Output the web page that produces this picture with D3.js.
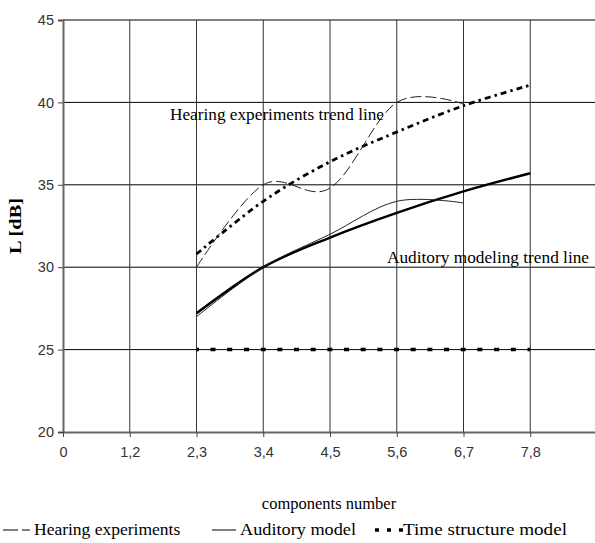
<!DOCTYPE html>
<html>
<head>
<meta charset="utf-8">
<script src="https://cdn.jsdelivr.net/npm/d3@7"></script>
<style>
  body { margin: 0; background: #fff; }
  svg { display: block; }
</style>
</head>
<body>
<div id="vis-container"></div>
<script>
// categories on the x axis (Excel-style category axis)
const categories = ["0", "1,2", "2,3", "3,4", "4,5", "5,6", "6,7", "7,8"];
const yTicks = [20, 25, 30, 35, 40, 45];

// series, indexed by category position
const hearingIdx = [2, 3, 4, 5, 6];
const hearing = [30.0, 35.0, 34.8, 40.0, 39.9];
const auditory = [27.0, 30.0, 32.0, 34.0, 33.9];

const trendIdx = [2, 3, 4, 5, 6, 7];
const hearingTrend = [30.8, 34.0, 36.4, 38.2, 39.8, 41.05];
const auditoryTrend = [27.2, 30.0, 31.8, 33.3, 34.6, 35.7];
const timeStructure = [25, 25, 25, 25, 25, 25];

const width = 595;
const height = 543;
const margin = { top: 20, right: -2, bottom: 111, left: 63 };

const svg = d3.select("#vis-container")
  .append("svg")
  .attr("width", width)
  .attr("height", height);

// x: category position, 8 slots
const x = d3.scaleLinear()
  .domain([0, 8])
  .range([margin.left, width - margin.right]);

const y = d3.scaleLinear()
  .domain([20, 45])
  .range([height - margin.bottom, margin.top]);

// horizontal grid
svg.append("g")
  .selectAll("line")
  .data(yTicks.slice(1))
  .join("line")
  .attr("x1", margin.left)
  .attr("x2", width)
  .attr("y1", d => y(d))
  .attr("y2", d => y(d))
  .attr("stroke", "#000")
  .attr("stroke-width", 1);

// vertical grid
svg.append("g")
  .selectAll("line")
  .data(d3.range(1, categories.length))
  .join("line")
  .attr("x1", d => x(d))
  .attr("x2", d => x(d))
  .attr("y1", y(45))
  .attr("y2", y(20))
  .attr("stroke", "#333")
  .attr("stroke-width", 1);

const sans = "'Liberation Sans', Arial, sans-serif";
const serif = "'Liberation Serif', 'Times New Roman', serif";

// y axis
const yAxis = svg.append("g")
  .attr("transform", `translate(${margin.left},0)`)
  .call(d3.axisLeft(y).tickValues(yTicks).tickSize(5).tickPadding(4));
yAxis.select(".domain").attr("stroke", "#666").attr("stroke-width", 2);
yAxis.selectAll(".tick line").attr("stroke", "#444");
yAxis.selectAll("text")
  .attr("font-family", sans)
  .attr("font-size", "14.5px")
  .attr("fill", "#333");

// x axis
const xAxis = svg.append("g")
  .attr("transform", `translate(0,${y(20)})`)
  .call(d3.axisBottom(x)
    .tickValues(d3.range(categories.length))
    .tickFormat(i => categories[i])
    .tickSize(5)
    .tickPadding(10)
    .tickSizeOuter(0));
xAxis.select(".domain").attr("stroke", "#666").attr("stroke-width", 2);
xAxis.selectAll(".tick line").attr("stroke", "#444");
xAxis.selectAll("text")
  .attr("font-family", sans)
  .attr("font-size", "14.5px")
  .attr("fill", "#333");

// lines
const smooth = d3.line()
  .x(d => x(d[0]))
  .y(d => y(d[1]))
  .curve(d3.curveCatmullRom.alpha(0));

const pairs = (idx, vals) => idx.map((d, i) => [d, vals[i]]);

// time structure model (square dots)
svg.append("path")
  .datum(pairs(trendIdx, timeStructure))
  .attr("d", smooth)
  .attr("fill", "none")
  .attr("stroke", "#000")
  .attr("stroke-width", 3.5)
  .attr("stroke-dasharray", "5,11.67")
  .attr("stroke-dashoffset", 2.5);

// auditory model trend (thick)
svg.append("path")
  .datum(pairs(trendIdx, auditoryTrend))
  .attr("d", smooth)
  .attr("fill", "none")
  .attr("stroke", "#000")
  .attr("stroke-width", 2.5);

// auditory model (thin)
svg.append("path")
  .datum(pairs(hearingIdx, auditory))
  .attr("d", smooth)
  .attr("fill", "none")
  .attr("stroke", "#222")
  .attr("stroke-width", 1);

// hearing experiments trend (dash-dot)
svg.append("path")
  .datum(pairs(trendIdx, hearingTrend))
  .attr("d", smooth)
  .attr("fill", "none")
  .attr("stroke", "#000")
  .attr("stroke-width", 2.8)
  .attr("stroke-dasharray", "6,4,2.5,4");

// hearing experiments (thin dashed)
svg.append("path")
  .datum(pairs(hearingIdx, hearing))
  .attr("d", smooth)
  .attr("fill", "none")
  .attr("stroke", "#222")
  .attr("stroke-width", 1)
  .attr("stroke-dasharray", "11,4");

// annotations
svg.append("text")
  .attr("x", 170).attr("y", 120)
  .attr("font-family", serif).attr("font-size", "17px")
  .attr("textLength", 214).attr("lengthAdjust", "spacingAndGlyphs")
  .text("Hearing experiments trend line");
svg.append("text")
  .attr("x", 387).attr("y", 263)
  .attr("font-family", serif).attr("font-size", "17px")
  .attr("textLength", 202).attr("lengthAdjust", "spacingAndGlyphs")
  .text("Auditory modeling trend line");

// axis titles
svg.append("text")
  .attr("transform", `translate(21,${(y(45) + y(20)) / 2}) rotate(-90)`)
  .attr("text-anchor", "middle")
  .attr("font-family", serif).attr("font-size", "17px").attr("font-weight", "bold")
  .attr("textLength", 56).attr("lengthAdjust", "spacingAndGlyphs")
  .text("L [dB]");
svg.append("text")
  .attr("x", 329).attr("y", 509)
  .attr("text-anchor", "middle")
  .attr("font-family", serif).attr("font-size", "16.5px")
  .text("components number");

// legend
const legend = svg.append("g").attr("font-family", serif).attr("font-size", "17.5px");
const ly = 530;
legend.append("line").attr("x1", 3).attr("x2", 18).attr("y1", ly).attr("y2", ly)
  .attr("stroke", "#000").attr("stroke-width", 1);
legend.append("line").attr("x1", 22).attr("x2", 30).attr("y1", ly).attr("y2", ly)
  .attr("stroke", "#000").attr("stroke-width", 1);
legend.append("text").attr("x", 34).attr("y", ly + 5).text("Hearing experiments");
legend.append("line").attr("x1", 212).attr("x2", 236).attr("y1", ly).attr("y2", ly)
  .attr("stroke", "#000").attr("stroke-width", 1);
legend.append("text").attr("x", 240).attr("y", ly + 5)
  .attr("textLength", 116).attr("lengthAdjust", "spacingAndGlyphs")
  .text("Auditory model");
legend.append("line").attr("x1", 375).attr("x2", 403).attr("y1", ly).attr("y2", ly)
  .attr("stroke", "#000").attr("stroke-width", 3.5)
  .attr("stroke-dasharray", "4,8");
legend.append("text").attr("x", 403).attr("y", ly + 5)
  .attr("textLength", 164).attr("lengthAdjust", "spacingAndGlyphs")
  .text("Time structure model");
</script>
</body>
</html>
